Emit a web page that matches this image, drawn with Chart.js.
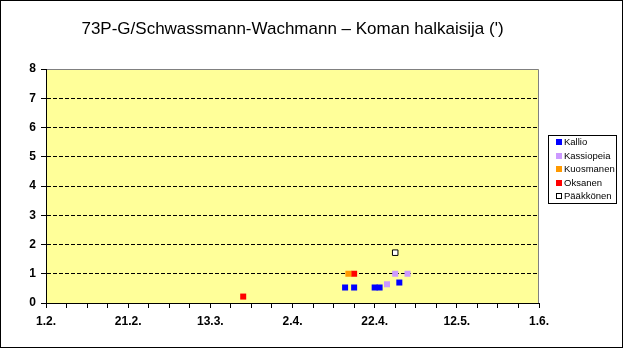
<!DOCTYPE html>
<html><head><meta charset="utf-8">
<script src="https://cdn.jsdelivr.net/npm/chart.js@4"></script>
<style>html,body{margin:0;padding:0;background:#fff}#wrap{width:626px;height:351px;position:relative}</style>
</head><body><div id="wrap"><canvas id="c" width="626" height="351"></canvas></div>
<script>
const titleText = "73P-G/Schwassmann-Wachmann \u2013 Koman halkaisija (')";
const xTickLabels = ['1.2.', '21.2.', '13.3.', '2.4.', '22.4.', '12.5.', '1.6.'];
const yTickLabels = ['0', '1', '2', '3', '4', '5', '6', '7', '8'];
const seriesNames = ['Kallio', 'Kassiopeia', 'Kuosmanen', 'Oksanen', 'P\u00e4\u00e4kk\u00f6nen'];
// x = days after 1.2.
const kallioDays = [72.8, 75, 80, 81.2, 86];
const kallioVals = [0.53, 0.53, 0.53, 0.53, 0.70];
const kassiopeiaDays = [83, 85, 88];
const kassiopeiaVals = [0.64, 1.0, 1.0];
const kuosmanenDays = [73.6];
const kuosmanenVals = [1.0];
const oksanenDays = [48, 75];
const oksanenVals = [0.22, 1.0];
const paakkonenDays = [85];
const paakkonenVals = [1.72];

const FONT = 'Arial, "Liberation Sans", sans-serif';
Chart.defaults.font.family = FONT;
Chart.defaults.color = '#000';

function pts(xs, ys) { return xs.map((x, i) => ({ x: x, y: ys[i] })); }
function ds(label, xs, ys, fill, border, bw, r) {
  return {
    label: label, data: pts(xs, ys), pointStyle: 'rect',
    backgroundColor: fill, borderColor: border, borderWidth: bw,
    pointRadius: r, pointHoverRadius: r, showLine: false
  };
}

const datasets = [
  ds(seriesNames[0], kallioDays, kallioVals, '#0000FF', '#0000FF', 0, 4.25),
  ds(seriesNames[1], kassiopeiaDays, kassiopeiaVals, '#CC99FF', '#CC99FF', 0, 4.25),
  ds(seriesNames[2], kuosmanenDays, kuosmanenVals, '#FF9900', '#FF9900', 0, 4.25),
  ds(seriesNames[3], oksanenDays, oksanenVals, '#FF0000', '#FF0000', 0, 4.25),
  ds(seriesNames[4], paakkonenDays, paakkonenVals, '#FFFFFF', '#000000', 1, 3.9)
];

const framePlugin = {
  id: 'frame',
  beforeDraw(chart) {
    const ctx = chart.ctx, a = chart.chartArea;
    ctx.save();
    ctx.fillStyle = '#fff';
    ctx.fillRect(0, 0, chart.width, chart.height);
    ctx.strokeStyle = '#000'; ctx.lineWidth = 1;
    ctx.strokeRect(0.5, 0.5, 622, 347);
    ctx.fillStyle = '#FFFF99';
    ctx.fillRect(a.left, a.top, a.right - a.left, a.bottom - a.top);
    ctx.strokeStyle = '#808080';
    ctx.beginPath();
    ctx.moveTo(a.left, a.top + 0.5); ctx.lineTo(a.right - 0.5, a.top + 0.5); ctx.lineTo(a.right - 0.5, a.bottom);
    ctx.stroke();
    ctx.restore();
  },
  afterDraw(chart) {
    const ctx = chart.ctx;
    ctx.save();
    ctx.strokeStyle = '#000'; ctx.lineWidth = 1;
    ctx.strokeRect(548.5, 135.5, 68, 68);
    ctx.font = '9.5px ' + FONT;
    ctx.textBaseline = 'middle';
    ctx.textAlign = 'left';
    chart.data.datasets.forEach((d, i) => {
      const cy = 142 + i * 13.5;
      const y0 = Math.round(cy - 3);
      ctx.fillStyle = d.backgroundColor;
      ctx.fillRect(556, y0, 6, 6);
      if (d.borderWidth > 0) {
        ctx.strokeStyle = d.borderColor;
        ctx.strokeRect(556.5, y0 + 0.5, 5, 5);
      }
      ctx.fillStyle = '#000';
      ctx.fillText(d.label, 564, cy + 0.5);
    });
    ctx.restore();
  }
};

new Chart(document.getElementById('c'), {
  type: 'scatter',
  data: { datasets: datasets },
  options: {
    responsive: false, animation: false, devicePixelRatio: 1,
    layout: { padding: { left: 0, right: 87, top: 0, bottom: 0 } },
    plugins: {
      legend: { display: false },
      tooltip: { enabled: false },
      title: {
        display: true, text: titleText, fullSize: false,
        font: { size: 17, weight: 'normal', family: FONT }, color: '#000',
        padding: { top: 19, bottom: 29.6 }
      }
    },
    scales: {
      x: {
        type: 'linear', min: 0, max: 120,
        afterFit(s) { s.height = 48; },
        ticks: {
          stepSize: 5, autoSkip: false, maxRotation: 0, padding: 6,
          font: { size: 12, weight: 'bold', family: FONT }, color: '#000',
          callback: v => (v % 20 === 0 ? xTickLabels[v / 20] : '')
        },
        grid: { drawOnChartArea: false, drawTicks: true, tickLength: 5, tickColor: '#000', color: '#000' },
        border: { color: '#000', width: 1 }
      },
      y: {
        min: 0, max: 8,
        afterFit(s) { s.width = 46; },
        ticks: {
          stepSize: 1, padding: 5,
          font: { size: 12, weight: 'bold', family: FONT }, color: '#000',
          callback: v => yTickLabels[v]
        },
        grid: {
          drawTicks: true, tickLength: 5, tickColor: '#000', tickBorderDash: [],
          color: c => (c.tick && (c.tick.value === 0 || c.tick.value === 8)) ? 'rgba(0,0,0,0)' : '#000'
        },
        border: { color: '#000', width: 1, dash: [4, 2] }
      }
    }
  },
  plugins: [framePlugin]
});
</script></body></html>
